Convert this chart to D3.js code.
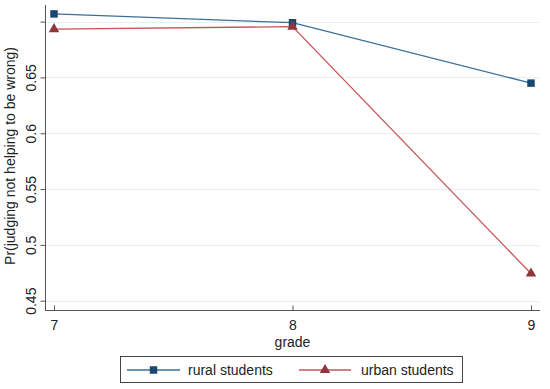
<!DOCTYPE html>
<html>
<head>
<meta charset="utf-8">
<script src="https://cdn.jsdelivr.net/npm/d3@7"></script>
<style>
  body { margin: 0; background: #fff; }
  svg { display: block; font-family: "Liberation Sans", Arial, sans-serif; }
</style>
</head>
<body>
<svg width="550" height="389"></svg>
<script>
var grades = [7, 8, 9],
  rural = [0.7069, 0.699, 0.6449],
  urban = [0.6932, 0.6955, 0.4743],
  yTicks = [0.45, 0.5, 0.55, 0.6, 0.65, 0.7],
  yTickLabels = ["0.45", "0.5", "0.55", "0.6", "0.65", ""],
  seriesNames = ["rural students", "urban students"];

var svg = d3.select("svg");

var x = d3.scaleLinear().domain([7, 9]).range([54, 531]),
  y = d3.scaleLinear().domain([0.45, 0.7]).range([300.7, 21.6]);

var plotLeft = 45, plotRight = 540, plotBottom = 310, plotTop = 5;

// light grid lines
svg.append("g")
  .selectAll("line")
  .data(yTicks)
  .enter().append("line")
    .attr("x1", plotLeft + 1)
    .attr("x2", plotRight)
    .attr("y1", function(d) { return Math.round(y(d)) + 0.5; })
    .attr("y2", function(d) { return Math.round(y(d)) + 0.5; })
    .attr("stroke", "#e6eff2")
    .attr("stroke-width", 1);

// y axis
var yAxis = svg.append("g")
  .attr("transform", "translate(" + (plotLeft + 0.5) + ",0)")
  .call(d3.axisLeft(y)
    .tickValues(yTicks)
    .tickSize(5)
    .tickFormat(function(d, i) { return yTickLabels[i]; }));
yAxis.select(".domain").attr("d", "M0," + plotTop + "V" + plotBottom).attr("stroke", "#555");
yAxis.selectAll(".tick line").attr("stroke", "#555");
yAxis.selectAll(".tick text")
  .attr("font-size", 14)
  .attr("fill", "#222")
  .attr("transform", "rotate(-90)")
  .attr("text-anchor", "middle")
  .attr("x", 0)
  .attr("y", -14)
  .attr("dy", "0.35em");

// x axis
var xAxis = svg.append("g")
  .attr("transform", "translate(0," + (plotBottom + 0.5) + ")")
  .call(d3.axisBottom(x)
    .tickValues(grades)
    .tickSize(5)
    .tickFormat(d3.format("d")));
xAxis.select(".domain").attr("d", "M" + plotLeft + ",0H" + plotRight).attr("stroke", "#555");
xAxis.selectAll(".tick line").attr("y2", -5).attr("stroke", "#555");
xAxis.selectAll(".tick text")
  .attr("font-size", 14)
  .attr("fill", "#222")
  .attr("y", 15)
  .attr("dy", "0.35em");

svg.append("text")
  .attr("x", x(8))
  .attr("y", 342)
  .attr("dy", "0.35em")
  .attr("text-anchor", "middle")
  .attr("font-size", 14)
  .attr("fill", "#222")
  .text("grade");

svg.append("text")
  .attr("transform", "translate(10," + 156 + ") rotate(-90)")
  .attr("text-anchor", "middle")
  .attr("dy", "0.35em")
  .attr("font-size", 14)
  .attr("fill", "#222")
  .text("Pr(judging not helping to be wrong)");

var series = [
  {name: seriesNames[0], values: rural, line: "#3b6f98", mark: "#1a476f", sym: d3.symbolSquare, size: 56},
  {name: seriesNames[1], values: urban, line: "#c8545a", mark: "#90353b", sym: d3.symbolTriangle, size: 48}
];

var line = d3.line()
  .x(function(d, i) { return x(grades[i]); })
  .y(function(d) { return y(d); });

series.forEach(function(s) {
  svg.append("path")
    .datum(s.values)
    .attr("fill", "none")
    .attr("stroke", s.line)
    .attr("stroke-width", 1.3)
    .attr("d", line);
});

series.forEach(function(s) {
  svg.append("g")
    .selectAll("path")
    .data(s.values)
    .enter().append("path")
      .attr("d", d3.symbol().type(s.sym).size(s.size))
      .attr("transform", function(d, i) { return "translate(" + x(grades[i]) + "," + y(d) + ")"; })
      .attr("fill", s.mark);
});

// legend
var lg = svg.append("g");
lg.append("rect")
  .attr("x", 120.5)
  .attr("y", 356.5)
  .attr("width", 342)
  .attr("height", 26)
  .attr("fill", "#fff")
  .attr("stroke", "#444");

var legendX = [[127, 180, 188], [299, 351, 361]];
series.forEach(function(s, i) {
  var lx = legendX[i], ly = 370;
  lg.append("line")
    .attr("x1", lx[0]).attr("x2", lx[1])
    .attr("y1", ly).attr("y2", ly)
    .attr("stroke", s.line)
    .attr("stroke-width", 1.3);
  lg.append("path")
    .attr("d", d3.symbol().type(s.sym).size(s.size))
    .attr("transform", "translate(" + ((lx[0] + lx[1]) / 2) + "," + ly + ")")
    .attr("fill", s.mark);
  lg.append("text")
    .attr("x", lx[2])
    .attr("y", ly)
    .attr("dy", "0.35em")
    .attr("font-size", 14)
    .attr("fill", "#222")
    .text(s.name);
});
</script>
</body>
</html>
